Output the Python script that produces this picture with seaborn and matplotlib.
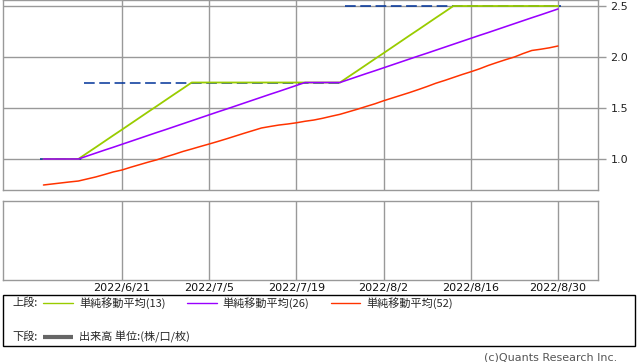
import matplotlib
matplotlib.use("Agg")
import matplotlib.pyplot as plt
from matplotlib.lines import Line2D
from matplotlib.patches import Rectangle
import seaborn as sns
import pandas as pd
import numpy as np

# ---------------- data ----------------
dates = ["2022/6/8", "2022/6/9", "2022/6/10", "2022/6/13", "2022/6/14", "2022/6/15", "2022/6/16",
         "2022/6/17", "2022/6/20", "2022/6/21", "2022/6/22", "2022/6/23", "2022/6/24", "2022/6/27",
         "2022/6/28", "2022/6/29", "2022/6/30", "2022/7/1", "2022/7/4", "2022/7/5", "2022/7/6",
         "2022/7/7", "2022/7/8", "2022/7/11", "2022/7/12", "2022/7/13", "2022/7/14", "2022/7/15",
         "2022/7/18", "2022/7/19", "2022/7/20", "2022/7/21", "2022/7/22", "2022/7/25", "2022/7/26",
         "2022/7/27", "2022/7/28", "2022/7/29", "2022/8/1", "2022/8/2", "2022/8/3", "2022/8/4",
         "2022/8/5", "2022/8/8", "2022/8/9", "2022/8/10", "2022/8/11", "2022/8/12", "2022/8/15",
         "2022/8/16", "2022/8/17", "2022/8/18", "2022/8/19", "2022/8/22", "2022/8/23", "2022/8/24",
         "2022/8/25", "2022/8/26", "2022/8/29", "2022/8/30"]

tick_labels = ["2022/6/21", "2022/7/5", "2022/7/19", "2022/8/2", "2022/8/16", "2022/8/30"]

price = [1.0, 1.0, 1.0, 1.0, 1.0,
         1.75, 1.75, 1.75, 1.75, 1.75, 1.75, 1.75, 1.75, 1.75, 1.75,
         1.75, 1.75, 1.75, 1.75, 1.75, 1.75, 1.75, 1.75, 1.75, 1.75,
         1.75, 1.75, 1.75, 1.75, 1.75, 1.75, 1.75, 1.75, 1.75, 1.75,
         2.5, 2.5, 2.5, 2.5, 2.5, 2.5, 2.5, 2.5, 2.5, 2.5,
         2.5, 2.5, 2.5, 2.5, 2.5, 2.5, 2.5, 2.5, 2.5, 2.5,
         2.5, 2.5, 2.5, 2.5, 2.5]

sma13 = [1.0, 1.0, 1.0, 1.0, 1.0,
         1.058, 1.115, 1.173, 1.231, 1.288, 1.346, 1.404, 1.462, 1.519, 1.577,
         1.635, 1.692, 1.75, 1.75, 1.75, 1.75, 1.75, 1.75, 1.75, 1.75,
         1.75, 1.75, 1.75, 1.75, 1.75, 1.75, 1.75, 1.75, 1.75, 1.75,
         1.808, 1.865, 1.923, 1.981, 2.038, 2.096, 2.154, 2.212, 2.269, 2.327,
         2.385, 2.442, 2.5, 2.5, 2.5, 2.5, 2.5, 2.5, 2.5, 2.5,
         2.5, 2.5, 2.5, 2.5, 2.5]

sma26 = [1.0, 1.0, 1.0, 1.0, 1.0,
         1.029, 1.058, 1.087, 1.115, 1.144, 1.173, 1.202, 1.231, 1.260, 1.288,
         1.317, 1.346, 1.375, 1.404, 1.433, 1.462, 1.490, 1.519, 1.548, 1.577,
         1.606, 1.635, 1.663, 1.692, 1.721, 1.75, 1.75, 1.75, 1.75, 1.75,
         1.779, 1.808, 1.837, 1.865, 1.894, 1.923, 1.952, 1.981, 2.010, 2.038,
         2.067, 2.096, 2.125, 2.154, 2.183, 2.212, 2.240, 2.269, 2.298, 2.327,
         2.356, 2.385, 2.413, 2.442, 2.471]

sma52 = [0.745, 0.755, 0.765, 0.775, 0.784, 0.804, 0.824, 0.848, 0.873, 0.892,
         0.919, 0.944, 0.969, 0.992, 1.020, 1.046, 1.074, 1.098, 1.123, 1.147,
         1.172, 1.198, 1.225, 1.252, 1.278, 1.304, 1.319, 1.333, 1.343, 1.355,
         1.370, 1.382, 1.399, 1.419, 1.438, 1.463, 1.488, 1.515, 1.541, 1.571,
         1.598, 1.625, 1.652, 1.681, 1.711, 1.743, 1.770, 1.799, 1.828, 1.855,
         1.884, 1.917, 1.946, 1.974, 2.000, 2.034, 2.064, 2.076, 2.090, 2.108]

y_ticks = [1.0, 1.5, 2.0, 2.5]

# ---------------- style ----------------
sns.set_style("white")
plt.rcParams["font.family"] = ["DejaVu Sans", "Noto Sans CJK JP"]
JP = ["Noto Sans CJK JP", "DejaVu Sans"]

GRID = "#999999"
C13 = "#99cc00"
C26 = "#9900ff"
C52 = "#ff3300"
CPRICE = "#003399"

df = pd.DataFrame({"i": np.arange(len(dates)), "date": dates, "price": price,
                   "sma13": sma13, "sma26": sma26, "sma52": sma52})
tick_pos = [dates.index(t) for t in tick_labels]

W, H = 638, 362
fig = plt.figure(figsize=(W / 100, H / 100), dpi=100)

def fx(px):
    return px / W

def fy(py):
    return 1 - py / H

ax = fig.add_axes([fx(3), fy(190), fx(595), 190 / H])
ax2 = fig.add_axes([fx(3), fy(280), fx(595), 79 / H])

xlim = (-4.64, 63.59)

# price as dashed runs (no vertical joins)
runs = []
start = 0
for k in range(1, len(price) + 1):
    if k == len(price) or price[k] != price[start]:
        runs.append((start, k - 1, price[start]))
        start = k
for s, e, v in runs:
    seg = pd.DataFrame({"x": [s - 0.4, e + 0.4], "y": [v, v]})
    sns.lineplot(data=seg, x="x", y="y", ax=ax, color=CPRICE, lw=1.1,
                 linestyle=(0, (7, 3)), zorder=2)

sns.lineplot(data=df, x="i", y="sma52", ax=ax, color=C52, lw=1.1, zorder=3)
sns.lineplot(data=df, x="i", y="sma13", ax=ax, color=C13, lw=1.3, zorder=4)
sns.lineplot(data=df, x="i", y="sma26", ax=ax, color=C26, lw=1.15, zorder=5)

for a in (ax, ax2):
    a.set_xlim(*xlim)
    a.set_xlabel("")
    a.set_ylabel("")
    for sp in a.spines.values():
        sp.set_color(GRID)
        sp.set_linewidth(1.0)
    a.set_xticks(tick_pos)
    a.grid(True, axis="x", color=GRID, lw=1.0)
    a.set_axisbelow(True)

ax.set_ylim(0.696, 2.559)
ax.set_yticks(y_ticks)
ax.set_yticklabels([f"{v:.1f}" for v in y_ticks])
ax.grid(True, axis="y", color=GRID, lw=1.0)
ax.yaxis.tick_right()
ax.tick_params(axis="y", which="both", right=True, left=False, length=6, width=1,
               color=GRID, labelsize=8, pad=3, labelcolor="#222222")
ax.tick_params(axis="x", bottom=False, labelbottom=False)

ax2.set_ylim(0, 1)
ax2.set_yticks([])
ax2.set_xticklabels(tick_labels)
ax2.tick_params(axis="x", bottom=False, length=0, labelsize=8, pad=2, labelcolor="#111111")

# ---------------- legend box ----------------
fig.patches.append(Rectangle((fx(3), fy(346)), fx(632), 51 / H, transform=fig.transFigure,
                             fill=False, edgecolor="black", lw=1.0))

r1, r2 = 303, 337
fs = 8
fig.text(fx(12), fy(r1), "上段:", family=JP, fontsize=fs, va="center", ha="left")
fig.text(fx(12), fy(r2), "下段:", family=JP, fontsize=fs, va="center", ha="left")

legend_items = [(43, 73, 79, C13, "単純移動平均(13)"),
                (187, 217, 222, C26, "単純移動平均(26)"),
                (331, 360, 366, C52, "単純移動平均(52)")]
for x0, x1, xt, c, label in legend_items:
    fig.add_artist(Line2D([fx(x0), fx(x1)], [fy(r1), fy(r1)], color=c, lw=1.0,
                          transform=fig.transFigure))
    fig.text(fx(xt), fy(r1), label, family=JP, fontsize=fs, va="center", ha="left")

fig.add_artist(Line2D([fx(43), fx(73)], [fy(r2), fy(r2)], color="#666666", lw=3.0,
                      transform=fig.transFigure, solid_capstyle="butt"))
fig.text(fx(79), fy(r2), "出来高 単位:(株/口/枚)", family=JP, fontsize=fs, va="center", ha="left")

fig.text(fx(617), fy(357), "(c)Quants Research Inc.", fontsize=8, color="#555555",
         va="center", ha="right")

fig.savefig("out.png", dpi=100)
